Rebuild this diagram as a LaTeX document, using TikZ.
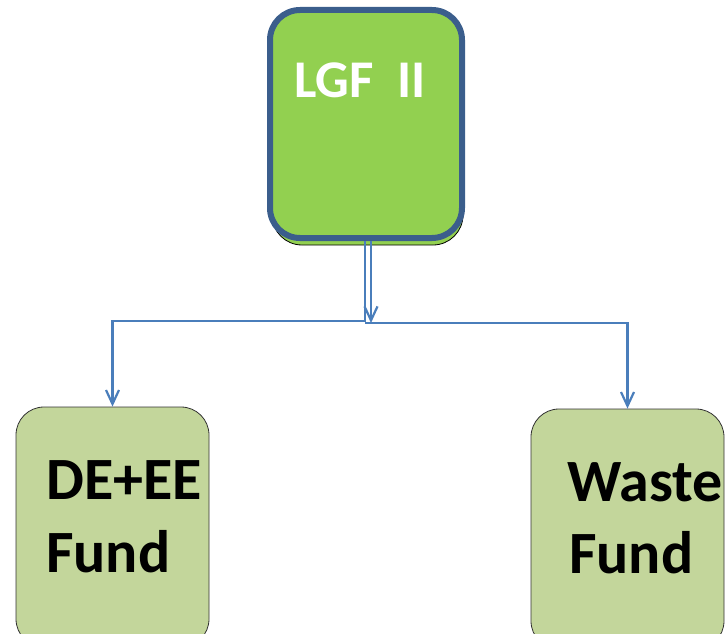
\documentclass[tikz,border=0pt]{standalone}
\usepackage{fontspec}
\setmainfont{Carlito}
\usetikzlibrary{arrows.meta}
\definecolor{topgreen}{HTML}{92D050}
\definecolor{topblue}{HTML}{3B5E8C}
\definecolor{leafgreen}{HTML}{C3D69B}
\definecolor{linkblue}{HTML}{4A7EBB}
\tikzset{
  leafbox/.style={draw=black!80, line width=0.8pt, fill=leafgreen, rounded corners=28pt},
  link/.style={draw=linkblue, line width=2.5pt, -{Straight Barb[length=14pt,width=13pt,line width=2.2pt]}},
  bigtext/.style={font=\bfseries\fontsize{60}{72}\selectfont, anchor=base west, inner sep=0pt},
}
\begin{document}
\begin{tikzpicture}[x=1pt,y=-1pt]
\useasboundingbox (0,0) rectangle (726,634);
% top box: shadow then bordered box
\draw[black, line width=0.8pt, fill=topgreen, rounded corners=30pt] (272,14) rectangle (463,245);
\node[draw=topblue, line width=6pt, fill=topgreen, rounded corners=30pt, minimum width=192pt, minimum height=228pt, inner sep=0pt] (top) at (366,124) {};
\node[font=\bfseries\fontsize{53}{60}\selectfont, text=white, anchor=base west, inner sep=0pt] (toplabel) at (294,98) {LGF\ \ II};
% leaf boxes
\node[leafbox, minimum width=193pt, minimum height=240pt, inner sep=0pt] (left) at (112.5,527) {};
\node[leafbox, minimum width=193pt, minimum height=240pt, inner sep=0pt] (right) at (627.5,529) {};
\node[bigtext] (lt1) at (46,499) {DE+EE};
\node[bigtext] (lt2) at (46,572) {Fund};
\node[bigtext] (rt1) at (567,501) {Waste};
\node[bigtext] (rt2) at (569,573) {Fund};
% connectors
\coordinate (j1) at (365,321);
\coordinate (j2) at (371,323);
\coordinate (j3) at (365,323);
\draw[link] (top.south -| j1) -- (j1) -| (left.north);
\draw[link] (top.south -| j2) -- (j2);
\draw[link] (j3) -| (right.north);
\end{tikzpicture}
\end{document}
